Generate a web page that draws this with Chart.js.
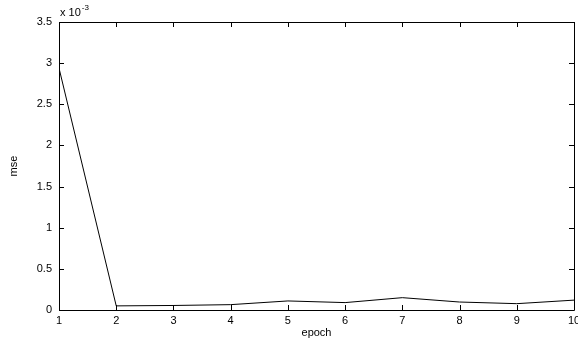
<!DOCTYPE html>
<html>
<head>
<meta charset="utf-8">
<script src="https://cdn.jsdelivr.net/npm/chart.js@4.4.1/dist/chart.umd.min.js"></script>
<style>
html,body{margin:0;padding:0;background:#fff;}
#wrap{width:578px;height:345px;position:relative;}
</style>
</head>
<body>
<div id="wrap"><canvas id="c" width="578" height="345"></canvas></div>
<script>
const epochs = [1,2,3,4,5,6,7,8,9,10];
const mse = [0.00294, 0.00005, 0.000055, 0.000065, 0.00011, 0.00009, 0.00015, 0.000097, 0.000077, 0.00012];
const yTicks = [0, 0.0005, 0.001, 0.0015, 0.002, 0.0025, 0.003, 0.0035];
const exponentLabel = ['x 10', '-3'];
const scaleFactor = 1e-3;

const FONT = 'Liberation Sans, Arial, sans-serif';

const boxPlugin = {
  id: 'box',
  afterDraw(chart) {
    const {ctx, chartArea: a, scales: {x, y}} = chart;
    ctx.save();
    ctx.strokeStyle = '#000';
    ctx.lineWidth = 1;
    ctx.beginPath();
    ctx.rect(Math.round(a.left)+0.5, Math.round(a.top)+0.5, Math.round(a.right-a.left), Math.round(a.bottom-a.top));
    ctx.stroke();
    const tl = 5;
    ctx.beginPath();
    epochs.forEach(v => {
      const px = Math.round(x.getPixelForValue(v)) + 0.5;
      ctx.moveTo(px, a.bottom); ctx.lineTo(px, a.bottom - tl);
      ctx.moveTo(px, a.top); ctx.lineTo(px, a.top + tl);
    });
    yTicks.forEach(v => {
      const py = Math.round(y.getPixelForValue(v)) + 0.5;
      ctx.moveTo(a.left, py); ctx.lineTo(a.left + tl, py);
      ctx.moveTo(a.right, py); ctx.lineTo(a.right - tl, py);
    });
    ctx.stroke();
    // exponent label
    ctx.fillStyle = '#000';
    ctx.textBaseline = 'alphabetic';
    ctx.textAlign = 'left';
    ctx.font = '11px ' + FONT;
    ctx.fillText(exponentLabel[0], a.left + 1, a.top - 6);
    const w = ctx.measureText(exponentLabel[0]).width;
    ctx.font = '8px ' + FONT;
    ctx.fillText(exponentLabel[1], a.left + 1 + w + 1, a.top - 12);
    ctx.restore();
  }
};

new Chart(document.getElementById('c'), {
  type: 'line',
  data: {
    labels: epochs,
    datasets: [{
      data: mse,
      borderColor: '#000',
      borderWidth: 1,
      pointRadius: 0,
      tension: 0,
      fill: false
    }]
  },
  options: {
    responsive: false,
    animation: false,
    devicePixelRatio: 1,
    layout: {padding: {top: 22, right: 4, left: 0, bottom: 0}},
    plugins: {legend: {display: false}, tooltip: {enabled: false}},
    scales: {
      x: {
        type: 'linear',
        min: 1, max: 10,
        afterFit(s) { s.height = 35; s.paddingLeft = 0; s.paddingRight = 0; },
        afterBuildTicks(s) { s.ticks = epochs.map(v => ({value: v})); },
        grid: {display: false, drawTicks: false},
        border: {display: false},
        ticks: {color: '#000', font: {size: 11, family: FONT}, padding: 4, maxRotation: 0, autoSkip: false,
          callback: v => String(v)},
        title: {display: true, text: 'epoch', color: '#000', font: {size: 11, family: FONT}, padding: {top: 0, bottom: 5}}
      },
      y: {
        type: 'linear',
        min: 0, max: 0.0035,
        afterFit(s) { s.width = 59; s.paddingTop = 0; s.paddingBottom = 0; },
        afterBuildTicks(s) { s.ticks = yTicks.map(v => ({value: v})); },
        grid: {display: false, drawTicks: false},
        border: {display: false},
        ticks: {color: '#000', font: {size: 11, family: FONT}, padding: 7,
          callback: v => String(+(v / scaleFactor).toFixed(1))},
        title: {display: true, text: 'mse', color: '#000', font: {size: 11, family: FONT}, padding: {top: 7, bottom: 0}}
      }
    }
  },
  plugins: [boxPlugin]
});
</script>
</body>
</html>
